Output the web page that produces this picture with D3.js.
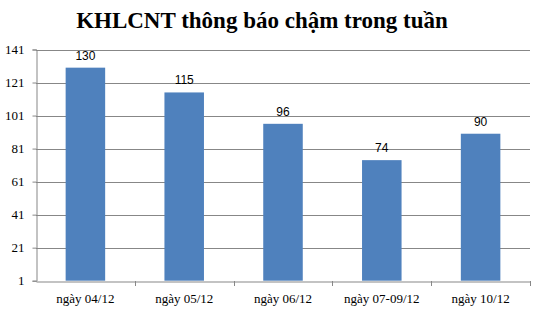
<!DOCTYPE html>
<html>
<head>
<meta charset="utf-8">
<script src="https://cdn.jsdelivr.net/npm/d3@7"></script>
<style>
  body { margin: 0; background: #fff; }
</style>
</head>
<body>
<div id="chart"></div>
<script>
var categories = ["ngày 04/12", "ngày 05/12", "ngày 06/12", "ngày 07-09/12", "ngày 10/12"];
var values = [130, 115, 96, 74, 90];
var yTicks = [1, 21, 41, 61, 81, 101, 121, 141];

var width = 541, height = 309;
var plotLeft = 36, plotRight = 530, plotTop = 49.5, plotBottom = 280.7;

var svg = d3.select("#chart").append("svg")
  .attr("width", width)
  .attr("height", height);

svg.append("rect").attr("width", width).attr("height", height).attr("fill", "#fff");

var x = d3.scaleBand().domain(categories).range([plotLeft, plotRight]).paddingInner(0.6).paddingOuter(0.3);
var xb = d3.scaleBand().domain(categories).range([plotLeft, plotRight]);
var y = d3.scaleLinear().domain([1, 141]).range([plotBottom, plotTop]);

// title
svg.append("text")
  .attr("x", 262).attr("y", 28)
  .attr("text-anchor", "middle")
  .style("font-family", "'Liberation Serif', 'Times New Roman', serif")
  .style("font-weight", "bold")
  .style("font-size", "23px")
  .text("KHLCNT thông báo chậm trong tuần");

// gridlines
svg.append("g").selectAll("line")
  .data(yTicks.slice(1))
  .enter().append("line")
  .attr("x1", plotLeft).attr("x2", plotRight)
  .attr("y1", d => Math.round(y(d)) + 0.5).attr("y2", d => Math.round(y(d)) + 0.5)
  .attr("stroke", "#878787").attr("stroke-width", 1);

// y axis
var yAxis = svg.append("g")
  .attr("transform", "translate(" + (plotLeft + 0.5) + ",0)")
  .call(d3.axisLeft(y).tickValues(yTicks).tickSize(4).tickPadding(8));
yAxis.select(".domain").attr("stroke", "#878787");
yAxis.selectAll(".tick line").attr("stroke", "#878787");
yAxis.selectAll("text")
  .style("font-family", "'Liberation Serif', 'Times New Roman', serif")
  .style("font-size", "13px")
  .attr("fill", "#000");

// bars
svg.append("g").selectAll("rect")
  .data(values)
  .enter().append("rect")
  .attr("x", (d, i) => x(categories[i]))
  .attr("width", x.bandwidth())
  .attr("y", d => y(d))
  .attr("height", d => y(1) - y(d))
  .attr("fill", "#4F81BD");

// data labels
svg.append("g").selectAll("text")
  .data(values)
  .enter().append("text")
  .attr("x", (d, i) => x(categories[i]) + x.bandwidth() / 2)
  .attr("y", d => y(d) - 8)
  .attr("text-anchor", "middle")
  .style("font-family", "'Liberation Sans', Arial, sans-serif")
  .style("font-size", "12px")
  .text(d => d);

// x axis
var xAxis = svg.append("g")
  .attr("transform", "translate(0," + (Math.round(y(1)) + 0.5) + ")")
  .call(d3.axisBottom(xb).tickSize(0).tickPadding(12));
xAxis.select(".domain").attr("stroke", "#878787");
xAxis.selectAll("text")
  .style("font-family", "'Liberation Serif', 'Times New Roman', serif")
  .style("font-size", "13px")
  .attr("fill", "#000");
// category separators
svg.append("g").selectAll("line")
  .data(categories)
  .enter().append("line")
  .attr("x1", d => Math.round(xb(d) + xb.bandwidth()) + 0.5)
  .attr("x2", d => Math.round(xb(d) + xb.bandwidth()) + 0.5)
  .attr("y1", Math.round(y(1))).attr("y2", Math.round(y(1)) + 5)
  .attr("stroke", "#878787");
</script>
</body>
</html>
